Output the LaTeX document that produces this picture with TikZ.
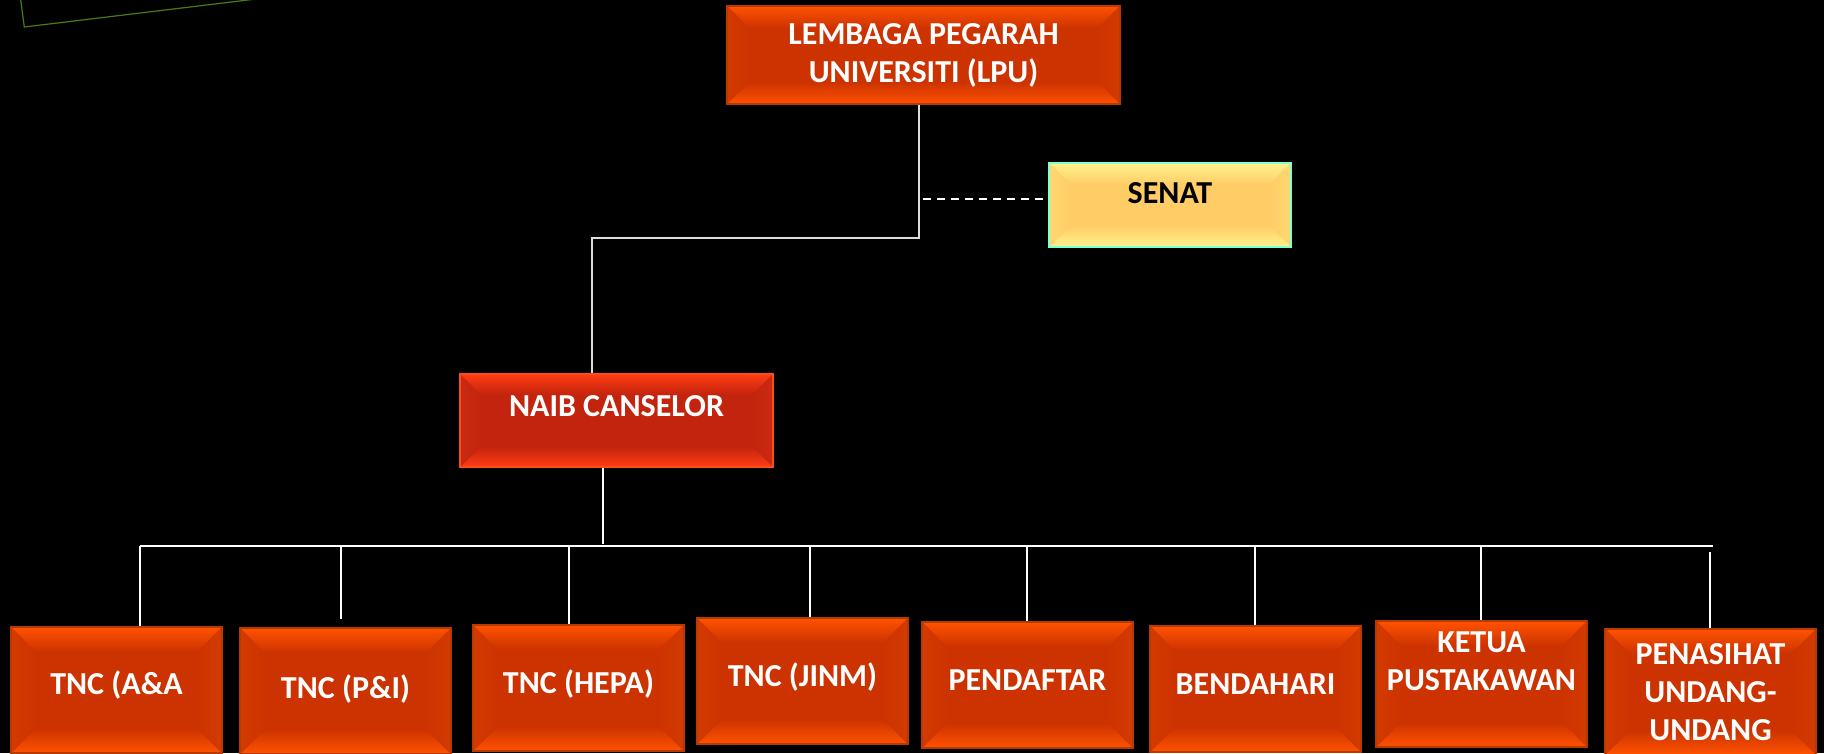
\documentclass[tikz,border=0pt]{standalone}
\usepackage{fontspec}
\setmainfont{Carlito}
\usetikzlibrary{calc}
\definecolor{ohi}{HTML}{FF5200}
\definecolor{omid}{HTML}{CC3300}
\definecolor{oside}{HTML}{D43B00}
\definecolor{obord}{HTML}{B83A00}
\definecolor{nhi}{HTML}{FF3C14}
\definecolor{nmid}{HTML}{C2240E}
\definecolor{nside}{HTML}{CA2A10}
\definecolor{nbord}{HTML}{FF4A1F}
\definecolor{yhi}{HTML}{FFF28C}
\definecolor{ymid}{HTML}{FFCC66}
\definecolor{yside}{HTML}{FFD873}
\definecolor{ybord}{HTML}{7FFFD4}
\definecolor{gline}{HTML}{4A7A12}
\definecolor{lgrey}{HTML}{DDDDDD}
\tikzset{
  bevbox/.style n args={5}{rectangle, draw=#4, inner sep=0pt, align=center,
    path picture={
      \coordinate (pNW) at (path picture bounding box.north west);
      \coordinate (pNE) at (path picture bounding box.north east);
      \coordinate (pSW) at (path picture bounding box.south west);
      \coordinate (pSE) at (path picture bounding box.south east);
      \coordinate (qNW) at ([xshift=#5,yshift=-#5]pNW);
      \coordinate (qNE) at ([xshift=-#5,yshift=-#5]pNE);
      \coordinate (qSW) at ([xshift=#5,yshift=#5]pSW);
      \coordinate (qSE) at ([xshift=-#5,yshift=#5]pSE);
      \fill[#2] (pNW) rectangle (pSE);
      \shade[top color=#1, bottom color=#2] (pNW) -- (pNE) -- (qNE) -- (qNW) -- cycle;
      \shade[top color=#2, bottom color=#1] (pSW) -- (pSE) -- (qSE) -- (qSW) -- cycle;
      \shade[left color=#3, right color=#2] (pNW) -- (qNW) -- (qSW) -- (pSW) -- cycle;
      \shade[left color=#2, right color=#3] (pNE) -- (qNE) -- (qSE) -- (pSE) -- cycle;
    }},
  txt/.style={font=\bfseries\fontsize{32}{38}\selectfont},
  orangebox/.style={bevbox={ohi}{omid}{oside}{obord}{25pt}, line width=1.2pt, text=white, txt,
    minimum width=211pt, minimum height=126pt},
  lpubox/.style={bevbox={ohi}{omid}{oside}{obord}{22pt}, line width=1.2pt, text=white, txt,
    minimum width=393pt, minimum height=98pt},
  naibbox/.style={bevbox={nhi}{nmid}{nside}{nbord}{21pt}, line width=1.2pt, text=white, txt,
    minimum width=313pt, minimum height=93pt},
  senatbox/.style={bevbox={yhi}{ymid}{yside}{ybord}{22pt}, line width=2.5pt, text=black, txt,
    minimum width=242pt, minimum height=84pt},
  one/.style={text height=20.2pt, text depth=#1},
  conn/.style={draw=white, line width=2.2pt},
  topconn/.style={draw=lgrey, line width=2pt},
  dashconn/.style={draw=white, line width=2.4pt, dash pattern=on 8pt off 6pt},
  greenline/.style={draw=gline, line width=1.2pt}
}
\begin{document}
\begin{tikzpicture}[x=1pt,y=-1pt]
\fill[black] (0,0) rectangle (1824,753);
\useasboundingbox (0,0) rectangle (1824,753);
\clip (0,0) rectangle (1824,753);

% partial frame top-left
\coordinate (g1) at (20.7,0);
\coordinate (g2) at (24.3,27);
\coordinate (g3) at (248,0);
\draw[greenline] ($(g2)!1.3!(g1)$) -- (g2) -- ($(g2)!1.1!(g3)$);

% boxes
\node[lpubox] (lpu) at (923.5,55) {LEMBAGA PEGARAH\\UNIVERSITI (LPU)};
\node[senatbox, one=23pt] (senat) at (1170,205) {SENAT};
\node[naibbox, one=28pt] (naib) at (616.5,420.5) {NAIB CANSELOR};

\node[orangebox, one=12pt] (b1) at (116.5,690) {TNC (A\&A};
\node[orangebox, one=6pt]  (b2) at (345.5,691) {TNC (P\&I)};
\node[orangebox, one=10pt] (b3) at (578.5,688) {TNC (HEPA)};
\node[orangebox, one=9pt]  (b4) at (802.5,681) {TNC (JINM)};
\node[orangebox, one=9pt]  (b5) at (1027.5,685) {PENDAFTAR};
\node[orangebox, one=10pt] (b6) at (1255.5,689) {BENDAHARI};
\node[orangebox] (b7) at (1481.5,684) {KETUA\\PUSTAKAWAN\\[8pt]\mbox{}};
\node[orangebox] (b8) at (1710.5,692) {PENASIHAT\\UNDANG-\\UNDANG};

% connectors top
\coordinate (j1) at (919,238);
\coordinate (j2) at (592,238);
\draw[topconn] (j1 |- lpu.south) -- (j1) -- (j2) -- (j2 |- naib.north);
\coordinate (ds) at (923,199);
\draw[dashconn] (ds) -- (ds -| senat.west);

% NAIB down and bus
\coordinate (nb) at (603,544);
\draw[conn] (nb |- naib.south) -- (nb);
\coordinate (busL) at (139.6,546);
\coordinate (busR) at (1713,546);
\draw[conn] (busL) -- (busR);

\coordinate (d1) at (139.6,546);
\coordinate (d2) at (340.8,546);
\coordinate (d3) at (568.9,546);
\coordinate (d4) at (809.7,546);
\coordinate (d5) at (1027,546);
\coordinate (d6) at (1255,546);
\coordinate (d7) at (1481,546);
\coordinate (d8) at (1710,546);
\draw[conn] (d1) -- (d1 |- b1.north);
\draw[conn, shorten >=8pt] (d2) -- (d2 |- b2.north);
\draw[conn] (d3) -- (d3 |- b3.north);
\draw[conn] (d4) -- (d4 |- b4.north);
\draw[conn] (d5) -- (d5 |- b5.north);
\draw[conn] (d6) -- (d6 |- b6.north);
\draw[conn] (d7) -- (d7 |- b7.north);
\draw[conn, shorten <=6pt] (d8) -- (d8 |- b8.north);
\end{tikzpicture}
\end{document}
